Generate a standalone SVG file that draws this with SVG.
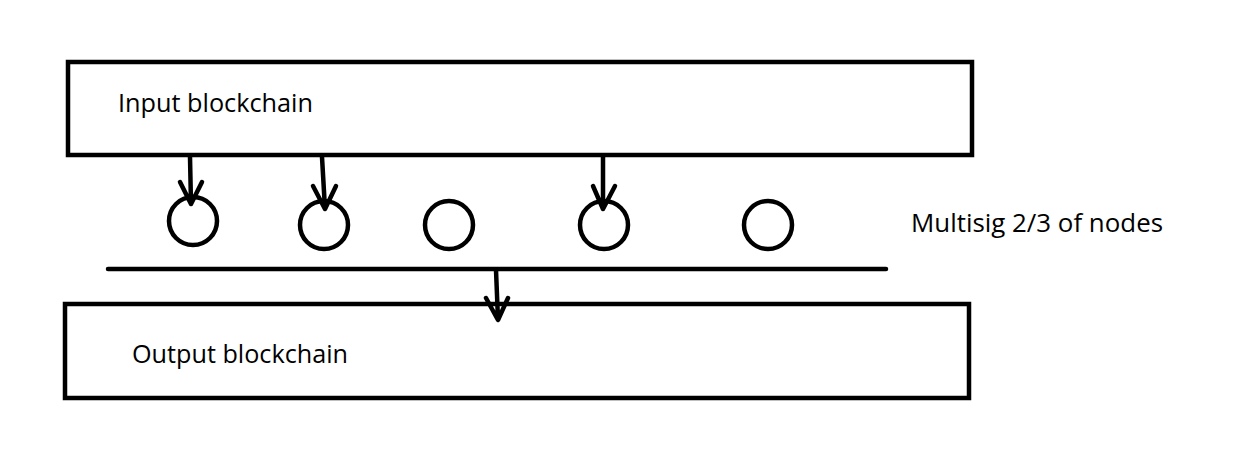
<svg xmlns="http://www.w3.org/2000/svg" width="1244" height="470" viewBox="0 0 1244 470">
<style>
.box{fill:#fff;stroke:#000;stroke-width:4.5}
.node{fill:#fff;stroke:#000;stroke-width:4.5}
.lbl{font-family:"Open Sans","Liberation Sans",sans-serif;font-size:25px;fill:#000}
.con{fill:none;stroke:#000;stroke-width:4.5;stroke-linecap:round;stroke-linejoin:round}
</style>
<rect width="1244" height="470" fill="#fff"/>
<g id="input-blockchain">
<rect class="box" x="68" y="62" width="904" height="93"/>
<text class="lbl" x="118" y="112" textLength="195" lengthAdjust="spacingAndGlyphs">Input blockchain</text>
</g>
<g id="output-blockchain">
<rect class="box" x="65" y="304" width="904" height="94"/>
<text class="lbl" x="132" y="363" textLength="216" lengthAdjust="spacingAndGlyphs">Output blockchain</text>
</g>
<g id="node1"><circle class="node" cx="193" cy="221" r="24"/></g>
<g id="node2"><circle class="node" cx="324" cy="225" r="24"/></g>
<g id="node3"><circle class="node" cx="449" cy="225" r="24"/></g>
<g id="node4"><circle class="node" cx="604" cy="225" r="24"/></g>
<g id="node5"><circle class="node" cx="768" cy="225" r="24"/></g>
<g id="multisig-label">
<text class="lbl" x="911" y="232" textLength="252" lengthAdjust="spacingAndGlyphs">Multisig 2/3 of nodes</text>
</g>
<g id="connectors">
<line class="con" x1="108" y1="269" x2="886" y2="269"/>
<path class="con" d="M190 157 L191 204 M180 182 L191 204 L202 182"/>
<path class="con" d="M322 157 L325 209 M313 186 L325 209 L336 186"/>
<path class="con" d="M603 157 L603 209 M593 186 L603 209 L615 186"/>
<path class="con" d="M496 270 L498 320 M486 298 L498 320 L508 298"/>
</g>
</svg>
